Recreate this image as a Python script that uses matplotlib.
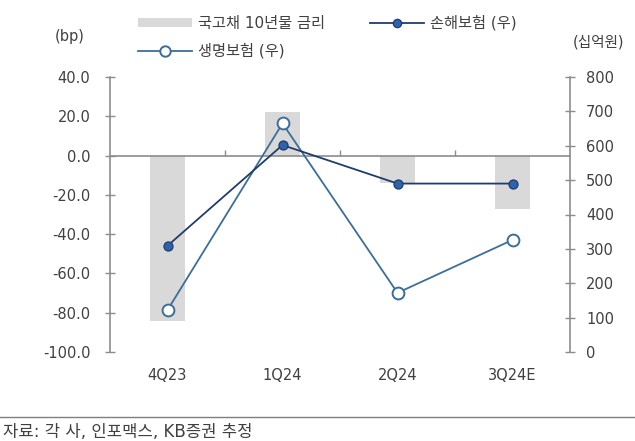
import matplotlib
matplotlib.use("Agg")
import matplotlib.pyplot as plt
import matplotlib.transforms as mtransforms
from matplotlib.patches import Patch
from matplotlib.lines import Line2D
import numpy as np

plt.rcParams['font.family'] = ['DejaVu Sans', 'Noto Sans CJK KR']
plt.rcParams['axes.unicode_minus'] = False

categories = ["4Q23", "1Q24", "2Q24", "3Q24E"]
bond_yield_bp = [-84, 22, -14, -27]
nonlife = [309, 602, 490, 490]
life = [122, 665, 172, 326]

left_ticks = [40, 20, 0, -20, -40, -60, -80, -100]
right_ticks = [800, 700, 600, 500, 400, 300, 200, 100, 0]

bar_color = "#d9d9d9"
dark_line = "#1f3d6b"
dark_face = "#2f62ad"
light_line = "#3b6e99"
axis_color = "#8c8c8c"
text_color = "#404040"
FS = 10.5

fig = plt.figure(figsize=(6.35, 4.41), dpi=100)
ax = fig.add_axes([110/635, 1-352/441, 460/635, 275/441])
ax2 = ax.twinx()

x = np.arange(len(categories))
ax.bar(x, bond_yield_bp, width=0.3, color=bar_color, zorder=1)
ax.set_ylim(-100, 40)
ax.set_xlim(-0.5, len(categories) - 0.5)
ax.set_yticks(left_ticks)
ax.set_yticklabels([f"{v:.1f}" for v in left_ticks])

ax2.plot(x, life, color=light_line, lw=1.3, marker="o", ms=8.5,
         mfc="white", mec=light_line, mew=1.4, zorder=3)
ax2.plot(x, nonlife, color=dark_line, lw=1.3, marker="o", ms=6.5,
         mfc=dark_face, mec=dark_line, mew=0.9, zorder=4)
ax2.set_ylim(0, 800)
ax2.set_yticks(right_ticks)

for a in (ax, ax2):
    a.spines['top'].set_visible(False)
ax.spines['right'].set_visible(False)
ax2.spines['left'].set_visible(False)
ax2.spines['bottom'].set_visible(False)
ax.spines['left'].set_color(axis_color)
ax.spines['left'].set_linewidth(1.2)
ax2.spines['right'].set_color(axis_color)
ax2.spines['right'].set_linewidth(1.2)
ax.spines['bottom'].set_position(('data', 0))
ax.spines['bottom'].set_color(axis_color)
ax.spines['bottom'].set_linewidth(1.2)

ax.tick_params(axis='y', direction='inout', length=7.2, width=1.0, color=axis_color,
               labelsize=FS, labelcolor=text_color, pad=10.5)
ax2.tick_params(axis='y', direction='inout', length=7.2, width=1.0, color=axis_color,
                labelsize=FS, labelcolor=text_color, pad=8)

ax.set_xticks(x)
ax.tick_params(axis='x', which='major', length=0, labelbottom=False)
ax.set_xticks([0.5, 1.5, 2.5], minor=True)
ax.tick_params(axis='x', which='minor', direction='in', length=4, width=1.0, color=axis_color)

trans = mtransforms.blended_transform_factory(ax.transData, ax.transAxes)
for xi, c in zip(x, categories):
    ax.text(xi, -0.085, c, transform=trans, ha='center', va='center',
            fontsize=FS, color=text_color)

fig.text(70/635, 1-37/441, "(bp)", ha='center', va='center', fontsize=FS, color=text_color)
fig.text(598/635, 1-42/441, "(십억원)", ha='center', va='center', fontsize=FS, color=text_color)

LFS = 11
handles = [
    Patch(facecolor=bar_color, edgecolor='none'),
    Line2D([], [], color=light_line, lw=1.3, marker="o", ms=7.5, mfc="white", mec=light_line, mew=1.4),
    Line2D([], [], color=dark_line, lw=1.3, marker="o", ms=6, mfc=dark_face, mec=dark_line, mew=0.9),
]
labels = ["국고채 10년물 금리", "생명보험 (우)", "손해보험 (우)"]
leg = fig.legend(handles, labels, ncol=2, loc='upper left', bbox_to_anchor=(138/635, 1-15/441),
                 frameon=False, fontsize=LFS, handlelength=3.55, handleheight=0.5,
                 handletextpad=0.4, columnspacing=2.9, labelspacing=0.8,
                 borderpad=0, borderaxespad=0, labelcolor=text_color)

fig.add_artist(Line2D([0, 1], [1-417/441, 1-417/441], color="#7f7f7f", lw=1.0))
fig.text(3/635, 1-432/441, "자료: 각 사, 인포맥스, KB증권 추정", ha='left', va='center',
         fontsize=12, color=text_color)

fig.savefig("out.png", dpi=100)
